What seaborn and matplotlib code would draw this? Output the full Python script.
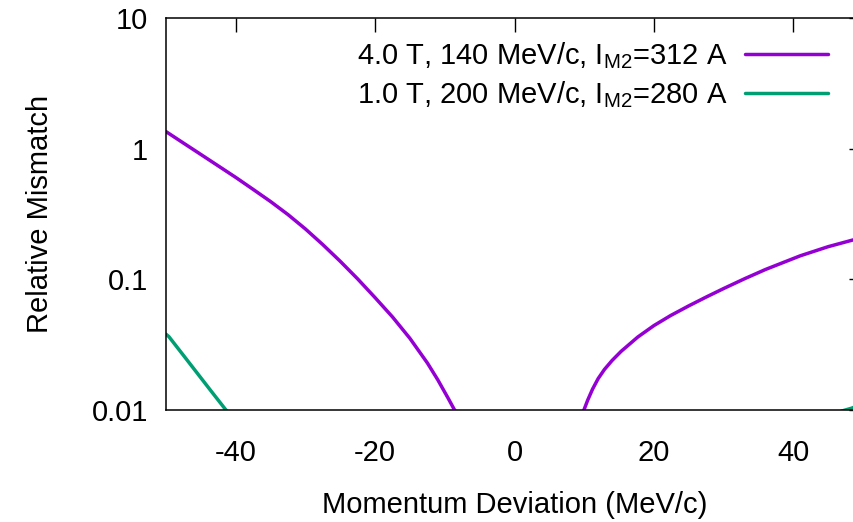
import numpy as np
import pandas as pd
import matplotlib
matplotlib.use("Agg")
import matplotlib.pyplot as plt
from matplotlib.lines import Line2D
from matplotlib.ticker import FixedLocator, FuncFormatter, LogLocator, NullFormatter
import seaborn as sns

# ---- data ----
labels = ["4.0 T, 140 MeV/c, I$_{\\mathrm{M2}}$=312 A",
          "1.0 T, 200 MeV/c, I$_{\\mathrm{M2}}$=280 A"]
colors = ["#9400D3", "#009E73"]

p_left_x = [-50, -47.5, -45, -42.5, -40, -37.5, -35, -32.5, -30, -27.5, -25, -22.5, -20,
            -17.5, -15, -12.5, -11, -9.5, -8.6, -8.2]
p_left_y = [1.351, 1.104, 0.903, 0.738, 0.603, 0.488, 0.394, 0.313, 0.243, 0.1843, 0.1374,
            0.1007, 0.0724, 0.0515, 0.0353, 0.0229, 0.0170, 0.01225, 0.0100, 0.00912]
p_right_x = [9.7, 9.96, 10.5, 11.2, 12, 12.9, 14, 15.3, 17.7, 20, 22.4, 25, 27.5, 30, 33, 36,
             41, 45, 48.6, 50]
p_right_y = [0.00912, 0.0100, 0.01189, 0.01445, 0.01738, 0.02042, 0.02393, 0.02812, 0.03622,
             0.04426, 0.05284, 0.06266, 0.07319, 0.08501, 0.1010, 0.1189, 0.1514, 0.1778,
             0.2004, 0.2089]
g_left_x = [-50, -49.6, -47.5, -45.7, -43.5, -41.4, -41.0]
g_left_y = [0.038, 0.0365, 0.0262, 0.0197, 0.0139, 0.0100, 0.0094]
g_right_x = [46.9, 48.3, 50]
g_right_y = [0.0098, 0.0103, 0.0111]

xticks = [-40, -20, 0, 20, 40]
yticks = [0.01, 0.1, 1, 10]
ytick_labels = ["0.01", "0.1", "1", "10"]

frames = []
for xs, ys, s, b in [(p_left_x, p_left_y, 0, "pl"), (p_right_x, p_right_y, 0, "pr"),
                     (g_left_x, g_left_y, 1, "gl"), (g_right_x, g_right_y, 1, "gr")]:
    frames.append(pd.DataFrame({"x": xs, "y": ys, "series": labels[s], "branch": b}))
df = pd.concat(frames, ignore_index=True)

sns.set_theme(style="white")
plt.rcParams["font.family"] = ["Liberation Sans", "DejaVu Sans"]
plt.rcParams["mathtext.fontset"] = "custom"
plt.rcParams["mathtext.rm"] = "Liberation Sans"
plt.rcParams["mathtext.it"] = "Liberation Sans:italic"
plt.rcParams["mathtext.bf"] = "Liberation Sans:bold"
plt.rcParams["axes.unicode_minus"] = False
plt.rcParams["text.color"] = "black"

W, H = 854, 522
fig = plt.figure(figsize=(W / 100, H / 100), dpi=100)
ax = fig.add_axes([166 / W, (H - 410) / H, (863 - 166) / W, (410 - 18) / H])

sns.lineplot(data=df, x="x", y="y", hue="series", units="branch", estimator=None,
             palette=dict(zip(labels, colors)), linewidth=2.5, legend=False,
             ax=ax, sort=False)

ax.set_yscale("log")
ax.set_xlim(-50, 50)
ax.set_ylim(0.01, 10)

fs = 21
ax.xaxis.set_major_locator(FixedLocator(xticks))
ax.yaxis.set_major_locator(FixedLocator(yticks))
ax.yaxis.set_major_formatter(FuncFormatter(lambda v, p: dict(zip(yticks, ytick_labels)).get(v, "")))
ax.yaxis.set_minor_locator(LogLocator(base=10, subs=np.arange(2, 10), numticks=20))
ax.yaxis.set_minor_formatter(NullFormatter())
ax.tick_params(which="both", direction="in", top=True, right=True, color="black", width=1.0,
               labelsize=fs, labelcolor="black")
ax.tick_params(which="major", length=10)
ax.tick_params(which="minor", length=5)
ax.tick_params(axis="y", which="major", pad=13)
ax.tick_params(axis="x", which="major", pad=21)
for sp in ax.spines.values():
    sp.set_color("black")
    sp.set_linewidth(1.1)

ax.set_xlabel("Momentum Deviation (MeV/c)", fontsize=fs, color="black", labelpad=17.5)
ax.set_ylabel("Relative Mismatch", fontsize=fs, color="black", labelpad=27)

handles = [Line2D([0], [0], color=c, lw=2.5) for c in colors]
leg = ax.legend(handles, labels, loc="upper right", bbox_to_anchor=(828 / W, (H - 40) / H),
                bbox_transform=fig.transFigure, frameon=False, markerfirst=False,
                fontsize=fs, handlelength=2.85, handletextpad=0.6, labelspacing=0.28,
                borderpad=0, borderaxespad=0, labelcolor="black")

fig.savefig("out.png", dpi=100)
